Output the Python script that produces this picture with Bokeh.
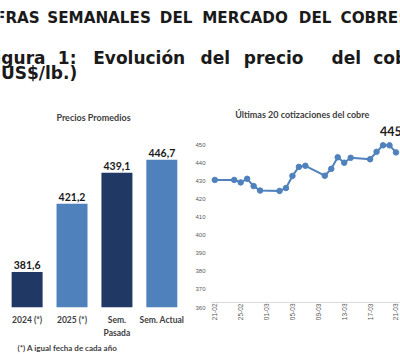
import math
import pandas as pd
from bokeh.plotting import figure
from bokeh.layouts import column, row
from bokeh.models import (ColumnDataSource, Range1d, LabelSet, Title, LinearAxis,
                          FixedTicker, DatetimeTickFormatter, Span)
from bokeh.core.properties import value
from bokeh.embed import file_html
from bokeh.resources import INLINE

# ---------------- data ----------------
bar_categories = ["2024 (*)", "2025 (*)", "Sem. Pasada", "Sem. Actual"]
bar_label_line1 = ["2024 (*)", "2025 (*)", "Sem.", "Sem. Actual"]
bar_label_line2 = ["", "", "Pasada", ""]
bar_values = [381.6, 421.2, 439.1, 446.7]
bar_colors = ["#1F3864", "#4F81BD", "#1F3864", "#4F81BD"]
footnote = "(*) A igual fecha de cada año"

line_dates = ["2025-02-21", "2025-02-24", "2025-02-25", "2025-02-26", "2025-02-27",
              "2025-02-28", "2025-03-03", "2025-03-04", "2025-03-05", "2025-03-06",
              "2025-03-07", "2025-03-10", "2025-03-11", "2025-03-12", "2025-03-13",
              "2025-03-14", "2025-03-17", "2025-03-18", "2025-03-19", "2025-03-20",
              "2025-03-21"]
line_values = [430.5, 430.5, 429.1, 431.1, 427.1, 424.6, 424.4, 426.0, 432.7, 437.7,
               438.3, 432.8, 436.6, 443.0, 440.0, 442.7, 441.9, 446.0, 449.6, 449.6,
               445.7]
x_tick_dates = ["2025-02-21", "2025-02-25", "2025-03-01", "2025-03-05",
                "2025-03-09", "2025-03-13", "2025-03-17", "2025-03-21"]
y_ticks = [360, 370, 380, 390, 400, 410, 420, 430, 440, 450]
axis_cross = 362.8


def fmt(v):
    return f"{v:.1f}".replace(".", ",")


TOTAL_W = 400
DARK = "#1a1a1a"
GRAY = "#404040"

# ---------------- header (titles) ----------------
hdr = figure(width=TOTAL_W, height=125, x_range=Range1d(0, 400), y_range=Range1d(125, 0),
             output_backend="svg", toolbar_location=None, min_border=0,
             x_axis_location=None, y_axis_location=None)
hdr.grid.visible = False
hdr.outline_line_color = None

line1 = [("CIFRAS", 39.3, "right"), ("SEMANALES", 46.7, "left"), ("DEL", 159.3, "left"),
         ("MERCADO", 201.7, "left"), ("DEL", 298.3, "left"), ("COBRE:", 340, "left")]
for t, x, a in line1:
    hdr.text(x=[x], y=[17.5], text=[t], text_align=a, text_baseline="alphabetic",
             text_font=value("DejaVu Sans"), text_font_size="15.2px",
             text_font_style="bold", text_color=DARK)

line2 = [("Figura", 45, "right"), ("1:", 57.3, "left"), ("Evolución", 92.7, "left"),
         ("del", 200, "left"), ("precio", 243.3, "left"), ("del", 331, "left"),
         ("cobre", 372.7, "left")]
for t, x, a in line2:
    hdr.text(x=[x], y=[57], text=[t], text_align=a, text_baseline="alphabetic",
             text_font=value("DejaVu Sans"), text_font_size="17px",
             text_font_style="bold", text_color=DARK)
hdr.text(x=[76.7], y=[72], text=["(US$/lb.)"], text_align="right", text_baseline="alphabetic",
         text_font=value("DejaVu Sans"), text_font_size="17px", text_font_style="bold",
         text_color=DARK)

hdr.text(x=[93], y=[116.5], text=["Precios Promedios"], text_align="center",
         text_baseline="alphabetic", text_font=value("Lato"), text_font_size="9px",
         text_font_style="bold", text_color=GRAY)
hdr.text(x=[301.7], y=[113.5], text=["Últimas 20 cotizaciones del cobre"], text_align="center",
         text_baseline="alphabetic", text_font=value("Lato"), text_font_size="9px",
         text_font_style="bold", text_color=GRAY)

# ---------------- bar chart ----------------
idx = list(range(len(bar_categories)))
bar_src = ColumnDataSource(dict(x=idx, cat=bar_categories, val=bar_values, color=bar_colors,
                                label=[fmt(v) for v in bar_values]))
pb = figure(width=188, height=230, x_range=Range1d(-0.593, 3.594),
            y_range=Range1d(361, 466.0), output_backend="svg", toolbar_location=None,
            min_border_left=0, min_border_right=0, min_border_top=1, min_border_bottom=48,
            y_axis_location=None)
pb.vbar(x="x", top="val", bottom=361, width=0.69, fill_color="color", line_color=None,
        source=bar_src)
pb.add_layout(LabelSet(x="x", y="val", text="label", source=bar_src, y_offset=3,
                       text_align="center", text_baseline="bottom",
                       text_font=value("Lato"), text_font_size="10.5px",
                       text_font_style="bold", text_color=DARK))
pb.grid.visible = False
pb.outline_line_color = None


def style_axis(ax, standoff):
    ax.axis_line_color = None
    ax.major_tick_line_color = None
    ax.minor_tick_line_color = None
    ax.major_tick_in = 0
    ax.major_tick_out = 0
    ax.minor_tick_in = 0
    ax.minor_tick_out = 0
    ax.major_label_standoff = standoff
    ax.major_label_text_font = "Lato"
    ax.major_label_text_font_style = "bold"
    ax.major_label_text_font_size = "8.5px"
    ax.major_label_text_color = GRAY


ax1 = pb.xaxis[0]
style_axis(ax1, 7)
ax1.ticker = FixedTicker(ticks=idx)
ax1.major_label_overrides = {i: t for i, t in zip(idx, bar_label_line1)}
ax2 = LinearAxis()
style_axis(ax2, 0)
ax2.ticker = FixedTicker(ticks=[i for i, t in zip(idx, bar_label_line2) if t])
ax2.major_label_overrides = {i: t for i, t in zip(idx, bar_label_line2) if t}
pb.add_layout(ax2, "below")
pb.add_layout(Title(text=footnote, align="left", offset=17, standoff=0,
                    text_font="Lato", text_font_size="8px", text_font_style="bold",
                    text_color=GRAY), "below")

# ---------------- line chart ----------------
dates = pd.to_datetime(line_dates)
line_src = ColumnDataSource(dict(x=dates, y=line_values))
d0 = pd.Timestamp(line_dates[0])
pl = figure(width=212, height=230,
            x_range=Range1d(d0 - pd.Timedelta(days=0.665), d0 + pd.Timedelta(days=28.7)),
            y_range=Range1d(360, 460), x_axis_type="datetime",
            output_backend="svg", toolbar_location=None,
            min_border_left=22, min_border_right=0, min_border_top=1, min_border_bottom=48)
pl.add_layout(Span(location=axis_cross, dimension="width", line_color="#D9D9D9", line_width=1))
pl.line(x="x", y="y", source=line_src, line_color="#4F81BD", line_width=2)
pl.scatter(x="x", y="y", source=line_src, size=5.5, fill_color="#4F81BD", line_color="#4F81BD")
last_src = ColumnDataSource(dict(x=[dates[-1]], y=[line_values[-1]], text=[fmt(line_values[-1])]))
pl.add_layout(LabelSet(x="x", y="y", text="text", source=last_src, y_offset=16,
                       text_align="center", text_baseline="alphabetic",
                       text_font=value("Lato"), text_font_size="12.5px",
                       text_font_style="bold", text_color=DARK))
pl.grid.visible = False
pl.outline_line_color = None
pl.axis.axis_line_color = None
pl.axis.major_tick_line_color = None
pl.axis.minor_tick_line_color = None
pl.axis.major_tick_out = 0
pl.axis.minor_tick_out = 0
pl.yaxis.ticker = FixedTicker(ticks=y_ticks)
pl.yaxis.major_label_text_font_size = "6px"
pl.yaxis.major_label_text_color = "#595959"
pl.yaxis.major_label_standoff = 5
pl.xaxis.ticker = FixedTicker(ticks=[pd.Timestamp(d).value / 1e6 for d in x_tick_dates])
pl.xaxis.formatter = DatetimeTickFormatter(days="%d-%m", months="%d-%m", years="%d-%m",
                                           hours="%d-%m")
pl.xaxis.major_label_orientation = math.pi / 2
pl.xaxis.major_label_standoff = -4
pl.xaxis.major_label_text_font_size = "6.5px"
pl.xaxis.major_label_text_color = "#595959"

layout = column(hdr, row(pb, pl))
open("out.html", "w").write(file_html(layout, INLINE))
